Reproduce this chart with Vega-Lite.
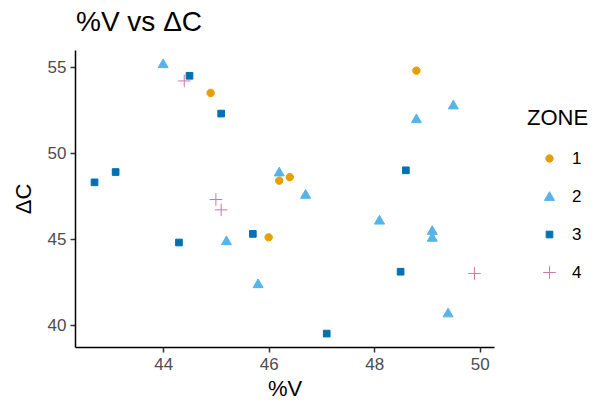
{
  "$schema": "https://vega.github.io/schema/vega-lite/v6.json",
  "autosize": {"type": "none"},
  "width": 419,
  "height": 297,
  "padding": {"left": 75, "top": 50, "right": 104, "bottom": 58},
  "background": "white",
  "title": {
    "text": "%V vs ΔC",
    "anchor": "start",
    "frame": "group",
    "font": "Liberation Sans",
    "fontSize": 28,
    "fontWeight": "normal",
    "color": "#000000",
    "offset": 13,
    "dx": 1
  },
  "config": {
    "view": {"stroke": null},
    "font": "Liberation Sans",
    "axis": {
      "grid": false,
      "domainColor": "#000000",
      "domainWidth": 1.5,
      "tickColor": "#333333",
      "tickWidth": 1.5,
      "tickSize": 5,
      "labelFont": "Liberation Sans",
      "labelFontSize": 17,
      "labelColor": "#4D4D4D",
      "labelPadding": 4,
      "titleFont": "Liberation Sans",
      "titleFontSize": 22,
      "titleFontWeight": "normal",
      "titleColor": "#000000"
    },
    "legend": {
      "titleFont": "Liberation Sans",
      "titleFontSize": 22,
      "titleFontWeight": "normal",
      "titleColor": "#000000",
      "labelFont": "Liberation Sans",
      "labelFontSize": 17,
      "labelColor": "#000000"
    }
  },
  "data": {
    "values": [
      {"V": 44.9, "C": 53.5, "ZONE": "1"},
      {"V": 48.8, "C": 54.8, "ZONE": "1"},
      {"V": 46.2, "C": 48.4, "ZONE": "1"},
      {"V": 46.4, "C": 48.6, "ZONE": "1"},
      {"V": 46.0, "C": 45.1, "ZONE": "1"},
      {"V": 44.0, "C": 55.2, "ZONE": "2"},
      {"V": 46.2, "C": 48.9, "ZONE": "2"},
      {"V": 46.7, "C": 47.6, "ZONE": "2"},
      {"V": 48.8, "C": 52.0, "ZONE": "2"},
      {"V": 49.5, "C": 52.8, "ZONE": "2"},
      {"V": 48.1, "C": 46.1, "ZONE": "2"},
      {"V": 49.1, "C": 45.5, "ZONE": "2"},
      {"V": 49.1, "C": 45.1, "ZONE": "2"},
      {"V": 45.2, "C": 44.9, "ZONE": "2"},
      {"V": 45.8, "C": 42.4, "ZONE": "2"},
      {"V": 49.4, "C": 40.7, "ZONE": "2"},
      {"V": 44.5, "C": 54.5, "ZONE": "3"},
      {"V": 45.1, "C": 52.3, "ZONE": "3"},
      {"V": 42.7, "C": 48.3, "ZONE": "3"},
      {"V": 43.1, "C": 48.9, "ZONE": "3"},
      {"V": 44.3, "C": 44.8, "ZONE": "3"},
      {"V": 45.7, "C": 45.3, "ZONE": "3"},
      {"V": 48.6, "C": 49.0, "ZONE": "3"},
      {"V": 48.5, "C": 43.1, "ZONE": "3"},
      {"V": 47.1, "C": 39.5, "ZONE": "3"},
      {"V": 44.4, "C": 54.2, "ZONE": "4"},
      {"V": 45.0, "C": 47.3, "ZONE": "4"},
      {"V": 45.1, "C": 46.7, "ZONE": "4"},
      {"V": 49.9, "C": 43.0, "ZONE": "4"}
    ]
  },
  "mark": {"type": "point", "filled": true, "opacity": 1, "size": 55, "strokeWidth": 1},
  "encoding": {
    "x": {
      "field": "V",
      "type": "quantitative",
      "title": "%V",
      "scale": {"domain": [42.33, 50.27], "nice": false, "zero": false},
      "axis": {"values": [44, 46, 48, 50], "titlePadding": 6}
    },
    "y": {
      "field": "C",
      "type": "quantitative",
      "title": "ΔC",
      "scale": {"domain": [38.72, 56.0], "nice": false, "zero": false},
      "axis": {"values": [40, 45, 50, 55], "titlePadding": 12}
    },
    "color": {
      "field": "ZONE",
      "type": "nominal",
      "title": "ZONE",
      "scale": {"domain": ["1", "2", "3", "4"], "range": ["#E69F00", "#56B4E9", "#0072B2", "#CC79A7"]}
    },
    "stroke": {
      "field": "ZONE",
      "type": "nominal",
      "title": "ZONE",
      "scale": {"domain": ["1", "2", "3", "4"], "range": ["#E69F00", "#56B4E9", "#0072B2", "#CC79A7"]}
    },
    "shape": {
      "field": "ZONE",
      "type": "nominal",
      "title": "ZONE",
      "scale": {
        "domain": ["1", "2", "3", "4"],
        "range": [
          "M-1,0A1,1,0,1,0,1,0A1,1,0,1,0,-1,0Z",
          "M-1.35,1.05L0,-1.3L1.35,1.05Z",
          "M-0.9,-0.9L0.9,-0.9L0.9,0.9L-0.9,0.9Z",
          "M-1.7,0L1.7,0M0,-1.7L0,1.7"
        ]
      },
      "legend": {
        "orient": "none",
        "legendX": 452,
        "legendY": 58,
        "rowPadding": 20,
        "symbolSize": 55,
        "symbolStrokeWidth": 1,
        "symbolOffset": 14,
        "labelOffset": 14,
        "titlePadding": 20,
        "padding": 0
      }
    }
  }
}
